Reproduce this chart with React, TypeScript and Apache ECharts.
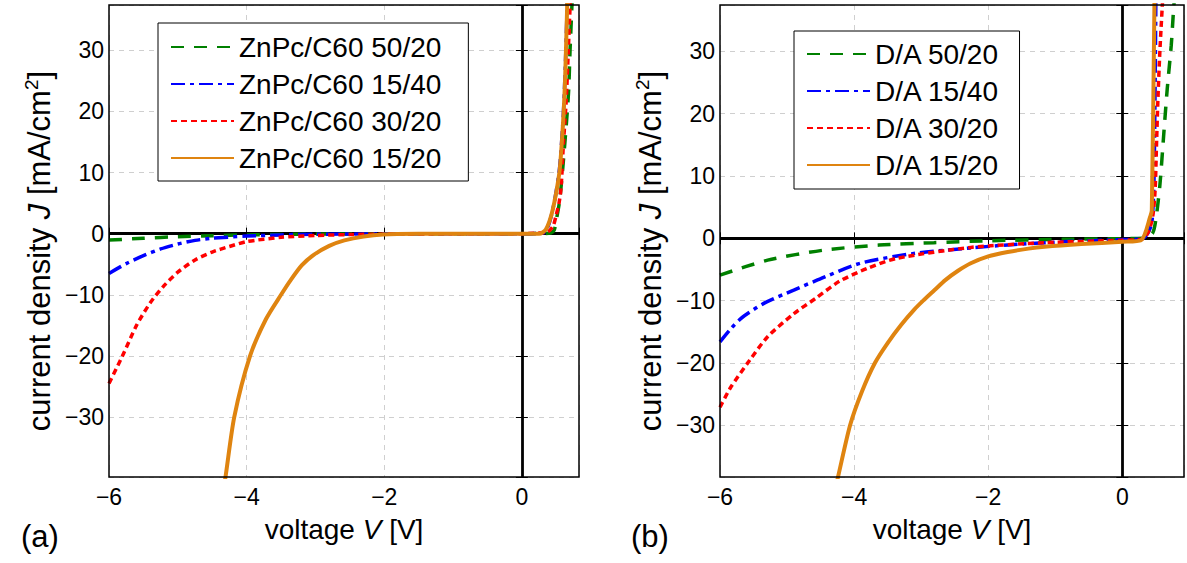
import React, { useEffect, useRef } from 'react';
import * as echarts from 'echarts';

const FONT = "'Liberation Sans', Arial, Helvetica, sans-serif";

// ---------- Panel (a): ZnPc/C60 ----------
const aNames = ['ZnPc/C60 50/20', 'ZnPc/C60 15/40', 'ZnPc/C60 30/20', 'ZnPc/C60 15/20'];

const aV_50_20 = [-6, -5.5, -5, -4.5, -4, -3.5, -3, -2, -1, 0, 0.3, 0.42, 0.47, 0.5, 0.55, 0.6, 0.65, 0.68, 0.7, 0.73];
const aJ_50_20 = [-1.05, -0.75, -0.5, -0.33, -0.2, -0.12, -0.07, -0.03, -0.01, 0, 0.02, 0.1, 0.6, 2.2, 5.5, 11.5, 18.5, 23.5, 30, 38];

const aV_15_40 = [-6, -5.75, -5.5, -5.25, -5, -4.75, -4.5, -4, -3.5, -3, -2, -1, 0, 0.3, 0.35, 0.4, 0.45, 0.5, 0.55, 0.6, 0.63, 0.66];
const aJ_15_40 = [-6.5, -4.9, -3.6, -2.5, -1.7, -1.1, -0.75, -0.4, -0.2, -0.1, -0.04, -0.01, 0, 0.1, 0.5, 1.8, 4, 7, 11, 19, 27, 38];

const aV_30_20 = [-6, -5.8, -5.6, -5.4, -5.2, -5, -4.75, -4.5, -4.25, -4, -3.5, -3, -2.5, -2, -1, 0, 0.35, 0.41, 0.46, 0.5, 0.54, 0.57, 0.6, 0.645, 0.675, 0.7, 0.71];
const aJ_30_20 = [-24.5, -19.9, -15, -11.3, -8.5, -6.3, -4.3, -3, -2.1, -1.3, -0.6, -0.3, -0.15, -0.08, -0.02, 0, 0.2, 0.6, 1.4, 3.1, 5, 7.6, 14, 22, 30, 37, 39];

const aV_15_20 = [-4.36, -4.31, -4.18, -3.95, -3.72, -3.5, -3.36, -3.2, -3.03, -2.8, -2.58, -2.3, -2.02, -1.5, 0, 0.25, 0.3, 0.35, 0.4, 0.45, 0.5, 0.55, 0.6, 0.63, 0.66];
const aJ_15_20 = [-43, -40, -30, -20, -14, -10, -7.6, -5.2, -3.5, -2.0, -1.1, -0.45, -0.12, -0.02, 0, 0, 0.2, 0.7, 2.0, 4.0, 6.8, 10.5, 18.5, 26, 38];

// ---------- Panel (b): D/A ----------
const bNames = ['D/A 50/20', 'D/A 15/40', 'D/A 30/20', 'D/A 15/20'];

const bV_50_20 = [-6, -5.29, -4.46, -3.63, -2.81, -1.98, -0.88, 0, 0.3, 0.45, 0.5, 0.56, 0.62, 0.67, 0.73, 0.76, 0.78];
const bJ_50_20 = [-5.9, -3.5, -1.9, -1.08, -0.7, -0.38, -0.16, -0.05, 0, 0.8, 3, 8.5, 17, 24, 31, 36, 39];

const bV_15_40 = [-6, -5.83, -5.67, -5.34, -4.9, -4.57, -3.91, -3.09, -2.26, -1.71, -0.88, 0, 0.3, 0.38, 0.43, 0.45, 0.47, 0.48, 0.49, 0.5];
const bJ_15_40 = [-16.6, -14.4, -12.7, -10.4, -8.3, -6.8, -4.0, -2.4, -1.55, -1.05, -0.55, -0.2, -0.05, 0.8, 2.1, 3.5, 8, 15, 25, 38];

const bV_30_20 = [-6, -5.84, -5.56, -5.29, -4.9, -4.57, -4.22, -3.8, -3.36, -2.26, -1.16, 0, 0.3, 0.4, 0.46, 0.49, 0.51, 0.53, 0.56, 0.6];
const bJ_30_20 = [-27.1, -23.9, -19.6, -15.8, -12.1, -9.6, -6.9, -4.8, -3.2, -1.45, -0.7, -0.3, -0.1, 1.3, 4, 8, 15, 22, 30, 38];

const bV_15_20 = [-4.3, -4.24, -4.06, -3.88, -3.69, -3.5, -3.3, -3.1, -2.97, -2.8, -2.64, -2.45, -2.26, -2.0, -1.71, -1.4, -1.16, -0.61, 0, 0.28, 0.42, 0.44, 0.48];
const bJ_15_20 = [-41, -38.3, -30, -24.5, -20, -16.8, -13.9, -11.4, -10, -8.3, -6.7, -5.2, -4.0, -2.9, -2.2, -1.65, -1.35, -0.92, -0.55, -0.3, 3.6, 4.5, 38.5];

// ---------- Axis ranges & ticks ----------
const aXRange = [-6, 0.83];
const aYRange = [-39.8, 37.4];
const bXRange = [-6, 0.92];
const bYRange = [-38.3, 37.45];
const xTickStep = 2;
const yTickStep = 10;

const COLORS = ['#008000', '#0000ff', '#ff0000', '#df8410'];
const DASHES: any[] = [[13, 10], [14, 5, 4, 5], [6, 4], 'solid'];
const WIDTHS = [3.5, 3.5, 3.5, 4];

const zip = (xs: number[], ys: number[]) => xs.map((x, i) => [x, ys[i]]);
const minus = (v: number) => (v < 0 ? '\u2212' + Math.abs(v) : String(v));

function App() {
  const ref = useRef<HTMLDivElement>(null);

  useEffect(() => {
    if (!ref.current) return;
    const chart = echarts.init(ref.current, null, { renderer: 'svg' });

    const grids = [
      { left: 109, top: 5, width: 470, height: 472 },
      { left: 720, top: 5, width: 470, height: 472 },
    ];
    const xRanges = [aXRange, bXRange];
    const yRanges = [aYRange, bYRange];

    const tickLabel = { fontFamily: FONT, fontSize: 23, color: '#000' };
    const tick = { show: true, inside: true, length: 6, lineStyle: { color: '#000', width: 1 } };
    const gridLine = { show: true, lineStyle: { color: '#cfcfcf', width: 1, type: [5, 5] } };

    const xAxis: any[] = [];
    const yAxis: any[] = [];
    [0, 1].forEach((g) => {
      xAxis.push({
        type: 'value', gridIndex: g, position: 'bottom',
        min: xRanges[g][0], max: xRanges[g][1],
        minInterval: xTickStep, maxInterval: xTickStep, splitNumber: 4,
        axisLine: { show: false },
        axisTick: tick,
        axisLabel: {
          ...tickLabel, margin: 8,
          formatter: (v: number) => (Math.abs(v / xTickStep - Math.round(v / xTickStep)) < 1e-6 ? minus(Math.round(v)) : ''),
        },
        splitLine: gridLine,
        name: '{t|voltage }{i|V}{t| [V]}',
        nameLocation: 'middle', nameGap: 38,
        nameTextStyle: {
          rich: {
            t: { fontFamily: FONT, fontSize: 28, color: '#000' },
            i: { fontFamily: FONT, fontSize: 28, color: '#000', fontStyle: 'italic' },
          },
        },
      });
      xAxis.push({
        type: 'value', gridIndex: g, position: 'top',
        min: xRanges[g][0], max: xRanges[g][1],
        minInterval: xTickStep, maxInterval: xTickStep, splitNumber: 4,
        axisLine: { show: false },
        axisTick: tick,
        axisLabel: { show: false },
        splitLine: { show: false },
      });
      yAxis.push({
        type: 'value', gridIndex: g, position: 'left',
        min: yRanges[g][0], max: yRanges[g][1],
        minInterval: yTickStep, maxInterval: yTickStep, splitNumber: 8,
        axisLine: { show: false },
        axisTick: tick,
        axisLabel: {
          ...tickLabel, margin: 5,
          formatter: (v: number) => (Math.abs(v / yTickStep - Math.round(v / yTickStep)) < 1e-6 ? minus(Math.round(v)) : ''),
        },
        splitLine: gridLine,
        name: '{t|current density }{i|J}{t| [mA/cm}{s|2}{t|]}',
        nameLocation: 'middle', nameGap: 54, nameRotate: 90,
        nameTextStyle: {
          padding: [0, 20, 0, 0],
          rich: {
            t: { fontFamily: FONT, fontSize: 31, color: '#000', verticalAlign: 'bottom', lineHeight: 34 },
            i: { fontFamily: FONT, fontSize: 31, color: '#000', fontStyle: 'italic', verticalAlign: 'bottom', lineHeight: 34 },
            s: { fontFamily: FONT, fontSize: 19, color: '#000', verticalAlign: 'bottom', lineHeight: 34, padding: [0, 0, 14, 0] },
          },
        },
      });
      yAxis.push({
        type: 'value', gridIndex: g, position: 'right',
        min: yRanges[g][0], max: yRanges[g][1],
        minInterval: yTickStep, maxInterval: yTickStep, splitNumber: 8,
        axisLine: { show: false },
        axisTick: tick,
        axisLabel: { show: false },
        splitLine: { show: false },
      });
    });

    const makeSeries = (g: number, names: string[], data: number[][][]) =>
      names.map((name, i) => ({
        type: 'line', name,
        xAxisIndex: g * 2, yAxisIndex: g * 2,
        data: data[i],
        showSymbol: false, symbol: 'none',
        smooth: 0.25,
        clip: true,
        z: 3,
        lineStyle: { color: COLORS[i], width: WIDTHS[i], type: DASHES[i], cap: 'butt' },
        itemStyle: { color: COLORS[i] },
        ...(i === 0
          ? {
              markLine: {
                silent: true, symbol: 'none', z: 1,
                label: { show: false },
                lineStyle: { color: '#000', width: 2.8, type: 'solid' },
                data: [{ xAxis: 0 }, { yAxis: 0 }],
              },
            }
          : {}),
      }));

    const series = [
      ...makeSeries(0, aNames, [zip(aV_50_20, aJ_50_20), zip(aV_15_40, aJ_15_40), zip(aV_30_20, aJ_30_20), zip(aV_15_20, aJ_15_20)]),
      ...makeSeries(1, bNames, [zip(bV_50_20, bJ_50_20), zip(bV_15_40, bJ_15_40), zip(bV_30_20, bJ_30_20), zip(bV_15_20, bJ_15_20)]),
    ];

    const legendBase = {
      orient: 'vertical',
      itemWidth: 63, itemHeight: 14, itemGap: 9,
      borderColor: '#000', borderWidth: 1, backgroundColor: '#fff',
      itemStyle: { color: 'transparent', borderColor: 'transparent', borderWidth: 0, opacity: 0 },
      textStyle: { fontFamily: FONT, fontSize: 28, color: '#000', lineHeight: 26 },
      selectedMode: false,
    };

    chart.setOption({
      animation: false,
      backgroundColor: '#fff',
      grid: grids.map((g) => ({ ...g, show: true, z: 10, borderColor: '#000', borderWidth: 1.5, backgroundColor: 'transparent', containLabel: false })),
      xAxis, yAxis,
      legend: [
        { ...legendBase, left: 158, top: 23, padding: [10, 27, 9, 12], data: aNames },
        { ...legendBase, left: 794, top: 31, padding: [9, 20, 10, 12], data: bNames },
      ],
      graphic: [
        { type: 'text', left: 21, top: 521, style: { text: '(a)', font: `31px ${FONT}`, fill: '#000' } },
        { type: 'text', left: 631, top: 521, style: { text: '(b)', font: `31px ${FONT}`, fill: '#000' } },
      ],
      series,
    });

    return () => chart.dispose();
  }, []);

  return <div ref={ref} style={{ position: 'absolute', left: 0, top: 0, width: 1187, height: 563, background: '#fff' }} />;
}

export default App;
